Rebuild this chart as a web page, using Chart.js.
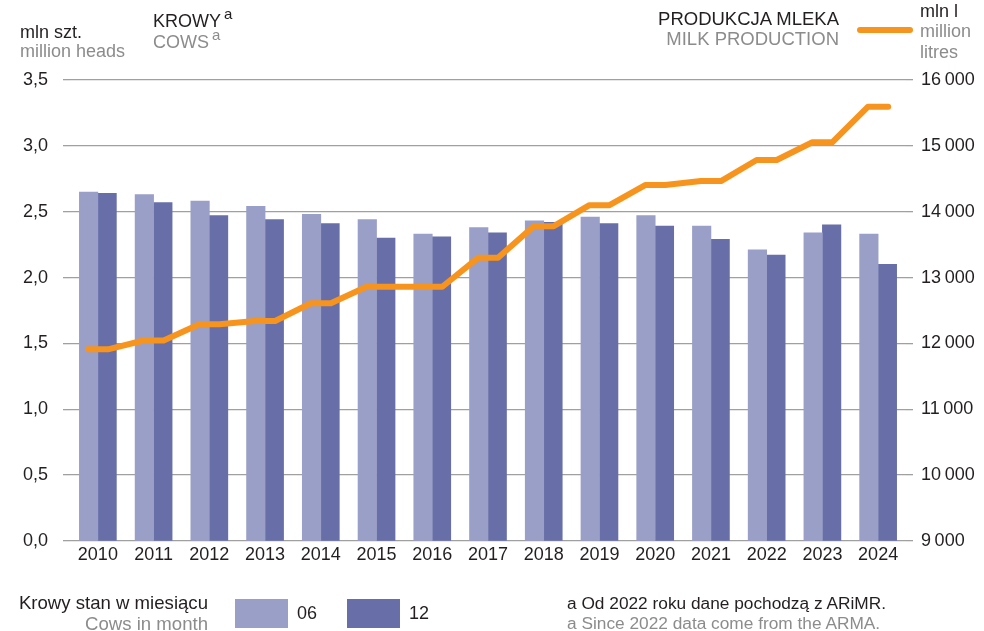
<!DOCTYPE html>
<html lang="pl">
<head>
<meta charset="utf-8">
<script src="https://cdn.jsdelivr.net/npm/chart.js@4.4.1/dist/chart.umd.min.js"></script>
<style>
  html, body { margin: 0; padding: 0; background: #fff; }
  body { width: 984px; height: 631px; position: relative; overflow: hidden;
         font-family: "Liberation Sans", Arial, Helvetica, sans-serif; color: #231f20; }
  #wrap { position: absolute; left: 0; top: 0; width: 984px; height: 631px; }
  .t { position: absolute; line-height: 1; white-space: nowrap; }
  .g { color: #8c8c8c; }
  sup { font-size: 15px; vertical-align: 0; position: relative; top: -8px; margin-left: 3px; }
  .sw { position: absolute; width: 53px; height: 29px; }
</style>
</head>
<body>
<div id="wrap"><canvas id="c" width="984" height="631"></canvas></div>

<div class="t" style="left:20px;top:23px;font-size:18px;">mln szt.</div>
<div class="t g" style="left:20px;top:42px;font-size:18px;">million heads</div>
<div class="t" style="left:153px;top:12px;font-size:18px;">KROWY<sup>a</sup></div>
<div class="t g" style="left:153px;top:33px;font-size:18px;">COWS<sup>a</sup></div>

<div class="t" style="right:145px;top:10px;font-size:18.5px;">PRODUKCJA MLEKA</div>
<div class="t g" style="right:145px;top:30px;font-size:18.5px;">MILK PRODUCTION</div>
<div style="position:absolute;left:857px;top:27px;width:56px;height:6px;border-radius:3px;background:#f7941d;"></div>
<div class="t" style="left:920px;top:2px;font-size:18px;">mln l</div>
<div class="t g" style="left:920px;top:22px;font-size:18px;">million</div>
<div class="t g" style="left:920px;top:43px;font-size:18px;">litres</div>

<div class="t" style="right:776px;top:594px;font-size:18.6px;">Krowy stan w miesiącu</div>
<div class="t g" style="right:776px;top:615px;font-size:18.6px;">Cows in month</div>
<div class="sw" style="left:235px;top:599px;background:#9a9fc7;"></div>
<div class="t" style="left:297px;top:604px;font-size:18px;">06</div>
<div class="sw" style="left:347px;top:599px;background:#676ea8;"></div>
<div class="t" style="left:409px;top:604px;font-size:18px;">12</div>

<div class="t" style="left:567px;top:595px;font-size:17.3px;">a Od 2022 roku dane pochodzą z ARiMR.</div>
<div class="t g" style="left:567px;top:615px;font-size:17.3px;">a Since 2022 data come from the ARMA.</div>

<script>
// Dairy cows (million heads) at end of June and December, and milk production (million litres)
const years = ['2010','2011','2012','2013','2014','2015','2016','2017','2018','2019','2020','2021','2022','2023','2024'];
const cowsJune = [2.65, 2.63, 2.58, 2.54, 2.48, 2.44, 2.33, 2.38, 2.43, 2.46, 2.47, 2.39, 2.21, 2.34, 2.33];
const cowsDec  = [2.64, 2.57, 2.47, 2.44, 2.41, 2.30, 2.31, 2.34, 2.42, 2.41, 2.39, 2.29, 2.17, 2.40, 2.10];
const milk     = [11910, 12045, 12290, 12340, 12610, 12860, 12860, 13300, 13780, 14100, 14405, 14465, 14785, 15055, 15595];

// Left and right axis ticks
const cowTicks  = [0, 0.5, 1, 1.5, 2, 2.5, 3, 3.5];
const milkTicks = [9000, 10000, 11000, 12000, 13000, 14000, 15000, 16000];

const COL_JUNE = '#9a9fc7';
const COL_DEC = '#676ea8';
const COL_MILK = '#f7941d';
const GRID = '#a0a0a0';
const TXT = '#231f20';
const FONT = '"Liberation Sans", Arial, Helvetica, sans-serif';
const BAR_W = 18.5;

// each yearly value is held flat across its bar pair before moving on
const HALF = 0.18;
const milkPoints = [];
milk.forEach((v, i) => {
  milkPoints.push({ x: i - HALF, y: v });
  milkPoints.push({ x: i + HALF, y: v });
});

const fmtComma = v => v.toFixed(1).replace('.', ',');
const fmtThousands = v => String(v).replace(/\B(?=(\d{3})+(?!\d))/g, '\u2009');

new Chart(document.getElementById('c'), {
  type: 'bar',
  data: {
    labels: years,
    datasets: [
      { type: 'line', data: milkPoints, xAxisID: 'xl', yAxisID: 'y1',
        borderColor: COL_MILK, borderWidth: 6, pointRadius: 0, tension: 0,
        borderCapStyle: 'round', borderJoinStyle: 'round', clip: false, order: 0 },
      { type: 'bar', data: cowsJune, backgroundColor: COL_JUNE, xAxisID: 'x', yAxisID: 'y',
        barThickness: BAR_W, order: 1 },
      { type: 'bar', data: cowsDec, backgroundColor: COL_DEC, xAxisID: 'x', yAxisID: 'y',
        barThickness: BAR_W, order: 1 }
    ]
  },
  options: {
    responsive: false,
    animation: false,
    devicePixelRatio: 1,
    layout: { padding: { top: 80, left: 0, right: 0, bottom: 0 } },
    plugins: { legend: { display: false }, tooltip: { enabled: false } },
    scales: {
      x: {
        type: 'category', offset: true,
        grid: { display: false, drawTicks: false },
        border: { display: false },
        ticks: { color: TXT, font: { family: FONT, size: 18 }, padding: 3, maxRotation: 0, autoSkip: false },
        afterFit: s => { s.height = 90; }
      },
      xl: {
        type: 'linear', display: false, offset: false, grid: { offset: false },
        min: -0.5, max: years.length - 0.5
      },
      y: {
        position: 'left', min: 0, max: 3.5,
        afterBuildTicks: s => { s.ticks = cowTicks.map(v => ({ value: v })); },
        grid: { color: GRID, lineWidth: 1.3, drawTicks: true, tickLength: 7, tickColor: GRID },
        border: { display: false },
        ticks: { color: TXT, font: { family: FONT, size: 18 }, padding: 15, callback: v => fmtComma(v) },
        afterFit: s => { s.width = 70; }
      },
      y1: {
        position: 'right', min: 9000, max: 16000,
        afterBuildTicks: s => { s.ticks = milkTicks.map(v => ({ value: v })); },
        grid: { drawOnChartArea: false, color: GRID, lineWidth: 1.3, drawTicks: true, tickLength: 7, tickColor: GRID },
        border: { display: false },
        ticks: { color: TXT, font: { family: FONT, size: 18 }, padding: 8, callback: v => fmtThousands(v) },
        afterFit: s => { s.width = 78; }
      }
    }
  }
});
</script>
</body>
</html>
